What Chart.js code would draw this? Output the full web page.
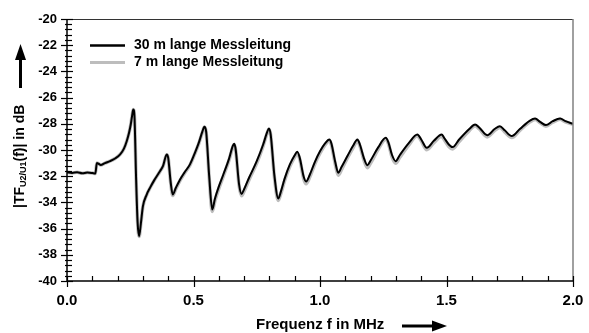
<!DOCTYPE html>
<html>
<head>
<meta charset="utf-8">
<script src="https://cdn.jsdelivr.net/npm/chart.js@4/dist/chart.umd.min.js"></script>
<style>
html,body{margin:0;padding:0;background:#fff;}
#wrap{width:589px;height:333px;position:relative;}
</style>
</head>
<body>
<div id="wrap"><canvas id="c" width="589" height="333"></canvas></div>
<script>
// Frequency axis (MHz)
const freqMHz = [
  0,0.02,0.04,0.06,0.08,0.10,0.112,0.118,0.125,0.133,
  0.15,0.17,0.19,0.21,0.225,0.236,0.245,0.252,0.258,0.262,
  0.267,0.273,0.279,0.285,0.292,0.30,0.315,0.328,0.345,0.368,
  0.38,0.394,0.40,0.41,0.418,0.43,0.447,0.465,0.486,0.506,
  0.52,0.535,0.543,0.55,0.562,0.574,0.585,0.60,0.618,0.64,
  0.655,0.661,0.667,0.68,0.69,0.70,0.72,0.75,0.775,0.79,
  0.798,0.805,0.82,0.835,0.845,0.86,0.881,0.90,0.91,0.92,
  0.935,0.945,0.96,0.98,1.00,1.02,1.037,1.045,1.06,1.072,
  1.085,1.11,1.13,1.148,1.158,1.175,1.187,1.2,1.23,1.26,
  1.27,1.285,1.299,1.315,1.35,1.385,1.40,1.422,1.45,1.481,
  1.49,1.51,1.524,1.55,1.59,1.613,1.63,1.661,1.69,1.711,
  1.73,1.758,1.79,1.83,1.85,1.87,1.893,1.92,1.949,1.97,
  2.0
];
// 30 m lange Messleitung (dB)
const tf30m = [
  -31.70,-31.75,-31.70,-31.78,-31.72,-31.76,-31.80,-31.00,-31.05,-31.15,
  -31.00,-30.85,-30.65,-30.34,-29.90,-29.33,-28.70,-28.05,-27.30,-26.90,
  -27.60,-32.10,-35.50,-36.58,-35.60,-34.30,-33.40,-32.89,-32.30,-31.60,
  -31.20,-30.34,-30.60,-32.50,-33.40,-32.90,-32.25,-31.70,-31.10,-30.20,
  -29.50,-28.60,-28.23,-28.60,-32.00,-34.54,-33.70,-32.80,-31.87,-30.70,
  -29.70,-29.53,-30.00,-32.60,-33.35,-33.00,-32.10,-30.85,-29.60,-28.70,
  -28.36,-28.80,-32.00,-33.70,-33.20,-32.20,-31.10,-30.40,-30.14,-30.60,
  -32.00,-32.40,-31.87,-30.90,-30.10,-29.50,-29.20,-29.50,-30.90,-31.74,
  -31.30,-30.40,-29.70,-29.20,-29.60,-30.70,-31.16,-30.80,-29.80,-29.07,
  -29.40,-30.40,-30.85,-30.40,-29.50,-28.82,-29.20,-29.83,-29.30,-28.82,
  -29.05,-29.60,-29.78,-29.20,-28.40,-28.05,-28.30,-28.87,-28.40,-28.18,
  -28.50,-28.94,-28.40,-27.75,-27.60,-27.85,-28.10,-27.80,-27.60,-27.80,
  -28.00
];
// 7 m lange Messleitung (dB)
const tf7m = [
  -31.70,-31.75,-31.70,-31.78,-31.72,-31.76,-31.80,-31.00,-31.05,-31.15,
  -31.00,-30.85,-30.65,-30.34,-29.90,-29.33,-28.70,-28.05,-27.30,-26.90,
  -27.60,-32.10,-35.50,-36.60,-35.62,-34.32,-33.42,-32.90,-32.32,-31.62,
  -31.22,-30.36,-30.62,-32.55,-33.48,-32.98,-32.32,-31.76,-31.16,-30.25,
  -29.55,-28.65,-28.25,-28.65,-32.10,-34.70,-33.85,-32.95,-32.00,-30.80,
  -29.80,-29.58,-30.05,-32.70,-33.50,-33.15,-32.25,-31.00,-29.70,-28.78,
  -28.42,-28.85,-32.10,-33.85,-33.35,-32.35,-31.25,-30.52,-30.22,-30.70,
  -32.15,-32.58,-32.05,-31.05,-30.25,-29.62,-29.30,-29.60,-31.05,-31.92,
  -31.50,-30.55,-29.85,-29.32,-29.70,-30.85,-31.35,-31.00,-29.95,-29.18,
  -29.50,-30.55,-31.02,-30.58,-29.65,-28.92,-29.30,-29.98,-29.45,-28.95,
  -29.18,-29.75,-29.92,-29.35,-28.52,-28.15,-28.40,-29.00,-28.52,-28.28,
  -28.62,-29.05,-28.50,-27.85,-27.68,-27.92,-28.18,-27.88,-27.66,-27.86,
  -28.05
];
const seriesLabels = ['30 m lange Messleitung', '7 m lange Messleitung'];
const xTitle = 'Frequenz f in MHz';
const yTitleParts = ['|TF', 'U2/U1', '(f)| in dB'];

const FONT = '"Liberation Sans", Arial, Helvetica, sans-serif';

const toPts = (vals) => freqMHz.map((f, i) => ({x: f, y: vals[i]}));

const decor = {
  id: 'decor',
  afterDraw(chart) {
    const ctx = chart.ctx;
    const xs = chart.scales.x, ys = chart.scales.y;
    const ca = chart.chartArea;
    ctx.save();
    // frame
    ctx.lineCap = 'butt';
    ctx.strokeStyle = '#333';
    ctx.lineWidth = 1;
    ctx.beginPath(); ctx.moveTo(ca.left, ca.top + 0.5); ctx.lineTo(ca.right, ca.top + 0.5); ctx.stroke();
    ctx.strokeStyle = '#808080';
    ctx.lineWidth = 1.5;
    ctx.beginPath(); ctx.moveTo(ca.right, ca.top); ctx.lineTo(ca.right, ca.bottom); ctx.stroke();
    ctx.strokeStyle = '#000';
    ctx.lineWidth = 1.5;
    ctx.beginPath(); ctx.moveTo(ca.left, ca.top); ctx.lineTo(ca.left, ca.bottom); ctx.lineTo(ca.right, ca.bottom); ctx.stroke();
    // y ticks
    ctx.lineWidth = 1.2;
    for (let k = 0; k <= 50; k++) {
      const v = -40 + k * 0.4;
      const p = Math.round(ys.getPixelForValue(v)) + 0.5;
      const major = (k % 5 === 0);
      ctx.beginPath();
      if (major) { ctx.moveTo(ca.left - 6, p); ctx.lineTo(ca.left + 6, p); }
      else { ctx.moveTo(ca.left - 2, p); ctx.lineTo(ca.left + 5, p); }
      ctx.stroke();
    }
    // x ticks
    for (let k = 0; k <= 20; k++) {
      const f = k * 0.1;
      const p = Math.round(xs.getPixelForValue(f)) + 0.5;
      const major = (k % 5 === 0);
      ctx.beginPath();
      if (major) { ctx.moveTo(p, ca.bottom - 5); ctx.lineTo(p, ca.bottom + 6); }
      else { ctx.moveTo(p, ca.bottom - 5); ctx.lineTo(p, ca.bottom); }
      ctx.stroke();
    }
    // legend
    const ds = chart.data.datasets;
    const legY = [45.5, 62.5];
    ctx.font = 'bold 14px ' + FONT;
    ctx.textBaseline = 'middle';
    ctx.textAlign = 'left';
    [0, 1].forEach((i) => {
      ctx.strokeStyle = ds[i].borderColor;
      ctx.lineWidth = i === 0 ? 2.5 : 3;
      ctx.beginPath(); ctx.moveTo(90, legY[i]); ctx.lineTo(125, legY[i]); ctx.stroke();
      ctx.fillStyle = '#000';
      ctx.fillText(ds[i].label, 134, legY[i]);
    });
    // x title + arrow
    ctx.font = 'bold 15px ' + FONT;
    ctx.fillStyle = '#000';
    ctx.fillText(xTitle, 256, 325);
    ctx.strokeStyle = '#000';
    ctx.lineWidth = 3;
    ctx.beginPath(); ctx.moveTo(402, 326); ctx.lineTo(434, 326); ctx.stroke();
    ctx.beginPath(); ctx.moveTo(447, 326); ctx.lineTo(432, 320.5); ctx.lineTo(432, 331.5); ctx.closePath(); ctx.fill();
    // y title + arrow
    ctx.save();
    ctx.translate(20, 208);
    ctx.rotate(-Math.PI / 2);
    ctx.textBaseline = 'middle';
    let cx = 0;
    ctx.font = 'bold 14px ' + FONT;
    ctx.fillText(yTitleParts[0], cx, 0); cx += ctx.measureText(yTitleParts[0]).width;
    ctx.font = 'bold 9px ' + FONT;
    ctx.fillText(yTitleParts[1], cx, 4); cx += ctx.measureText(yTitleParts[1]).width;
    ctx.font = 'bold 14px ' + FONT;
    ctx.fillText(yTitleParts[2], cx, 0);
    ctx.restore();
    ctx.lineWidth = 3;
    ctx.beginPath(); ctx.moveTo(20.5, 88); ctx.lineTo(20.5, 58); ctx.stroke();
    ctx.beginPath(); ctx.moveTo(20.5, 44); ctx.lineTo(15, 60); ctx.lineTo(26, 60); ctx.closePath(); ctx.fill();
    ctx.restore();
  }
};

new Chart(document.getElementById('c'), {
  type: 'line',
  data: {
    datasets: [
      { label: seriesLabels[0], data: toPts(tf30m), borderColor: '#000000', borderWidth: 2, order: 0,
        pointRadius: 0, cubicInterpolationMode: 'monotone', fill: false },
      { label: seriesLabels[1], data: toPts(tf7m), borderColor: '#bdbdbd', borderWidth: 3.5, order: 1,
        pointRadius: 0, cubicInterpolationMode: 'monotone', fill: false }
    ]
  },
  options: {
    responsive: false,
    animation: false,
    events: [],
    layout: { padding: { top: 19, right: 16, left: 0, bottom: 0 } },
    plugins: { legend: { display: false }, tooltip: { enabled: false } },
    scales: {
      x: {
        type: 'linear', min: 0, max: 2,
        grid: { display: false, drawTicks: false },
        border: { display: false },
        ticks: { stepSize: 0.5, padding: 11, color: '#000', maxRotation: 0,
                 font: { family: FONT, size: 15, weight: 'bold' },
                 callback: (v) => Number(v).toFixed(1) },
        afterFit: (s) => { s.height = 52; s.paddingLeft = 0; s.paddingRight = 0; }
      },
      y: {
        type: 'linear', min: -40, max: -20,
        grid: { display: false, drawTicks: false },
        border: { display: false },
        ticks: { stepSize: 2, padding: 10, color: '#000',
                 font: { family: FONT, size: 13, weight: 'bold' },
                 callback: (v) => String(v) },
        afterFit: (s) => { s.width = 67; s.paddingTop = 0; s.paddingBottom = 0; }
      }
    }
  },
  plugins: [decor]
});
</script>
</body>
</html>
